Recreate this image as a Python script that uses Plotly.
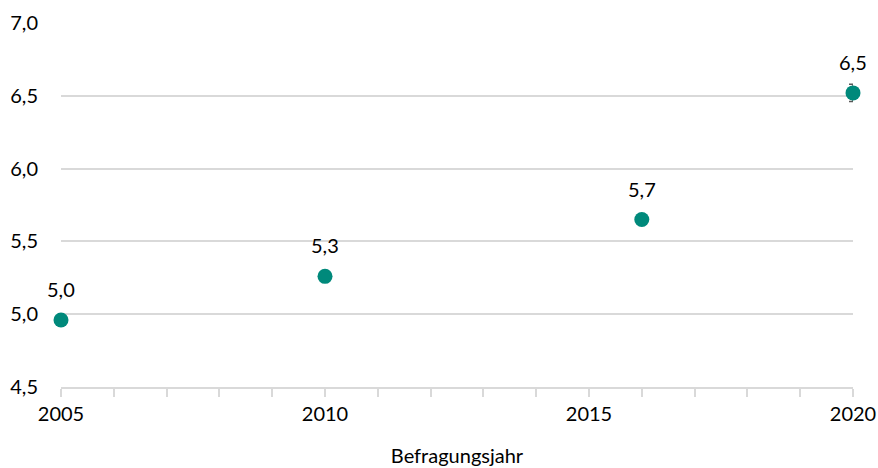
import plotly.graph_objects as go

years = [2005, 2010, 2016, 2020]
values = [4.96, 5.26, 5.65, 6.52]
errors = [0.0, 0.0, 0.0, 0.06]
labels = ["5,0", "5,3", "5,7", "6,5"]

font_family = "Lato, 'Open Sans', sans-serif"
fs = 20

fig = go.Figure()
fig.add_trace(go.Scatter(
    x=years, y=values, mode="markers",
    marker=dict(size=15, color="#00897B"),
    error_y=dict(type="data", array=errors, visible=True, color="#595959", thickness=1.5, width=4),
    cliponaxis=False, showlegend=False,
))
for x, y, t in zip(years, values, labels):
    fig.add_annotation(x=x, y=y, text=t, showarrow=False, yshift=31,
                       font=dict(size=fs, color="#000000", family=font_family))

fig.update_layout(
    width=878, height=468,
    margin=dict(l=61, r=25, t=23, b=81, autoexpand=False),
    paper_bgcolor="white", plot_bgcolor="white",
    separators=",.",
    font=dict(family=font_family, size=fs, color="#000000"),
    xaxis=dict(
        range=[2005, 2020], tickvals=[2005, 2010, 2015, 2020], ticktext=["2005", "2010", "2015", "2020"],
        showgrid=False, zeroline=False, automargin=False,
        showline=True, linecolor="#d9d9d9", linewidth=1.5,
        ticks="outside", ticklen=8, tickcolor="#d9d9d9", tickwidth=1.5,
        minor=dict(dtick=1, tick0=2005, ticks="outside", ticklen=8, tickcolor="#d9d9d9", tickwidth=1.5, showgrid=False),
        title=dict(text="Befragungsjahr", standoff=25, font=dict(size=fs)),
        tickfont=dict(size=fs),
    ),
    yaxis=dict(
        range=[4.5, 7.0], dtick=0.5, tickformat=".1f", automargin=False,
        showgrid=True, gridcolor="#d9d9d9", gridwidth=1.5,
        zeroline=False, showline=False, ticks="", ticklabelstandoff=22,
        tickfont=dict(size=fs),
    ),
)

fig.write_html("out.html", config={"displayModeBar": False},
               post_script="document.body.style.margin='0';document.body.style.padding='0';")
